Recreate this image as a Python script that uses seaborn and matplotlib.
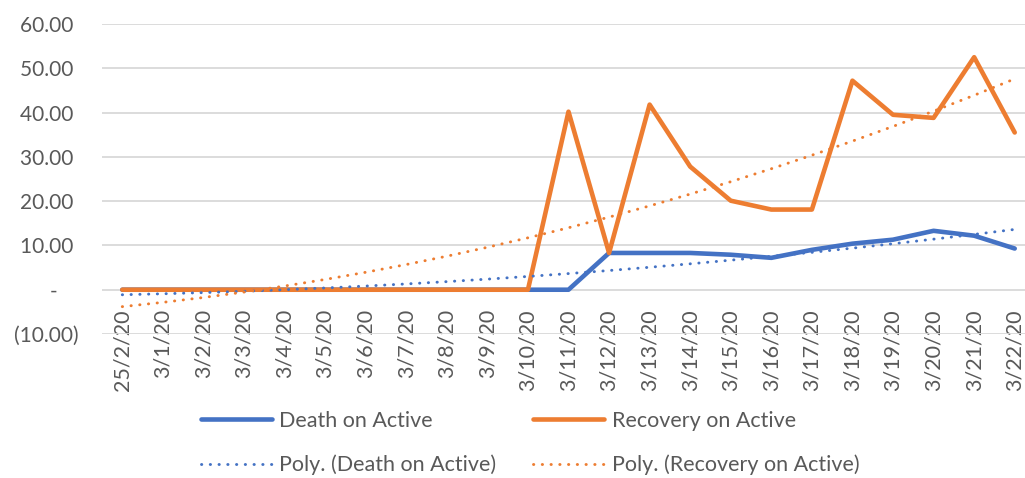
import numpy as np
import pandas as pd
import seaborn as sns
import matplotlib.pyplot as plt
from matplotlib.lines import Line2D

dates = ["25/2/20", "3/1/20", "3/2/20", "3/3/20", "3/4/20", "3/5/20", "3/6/20", "3/7/20",
         "3/8/20", "3/9/20", "3/10/20", "3/11/20", "3/12/20", "3/13/20", "3/14/20", "3/15/20",
         "3/16/20", "3/17/20", "3/18/20", "3/19/20", "3/20/20", "3/21/20", "3/22/20"]
death_on_active = [0, 0, 0, 0, 0, 0, 0, 0, 0, 0, 0, 0, 8.3, 8.3, 8.3, 7.9, 7.2, 9.0, 10.4,
                   11.3, 13.3, 12.2, 9.3]
recovery_on_active = [0, 0, 0, 0, 0, 0, 0, 0, 0, 0, 0, 40.2, 8.3, 41.8, 27.8, 20.1, 18.1,
                      18.1, 47.2, 39.5, 38.8, 52.5, 35.5]
y_ticks = [-10, 0, 10, 20, 30, 40, 50, 60]
y_labels = ["(10.00)", "-    ", "10.00 ", "20.00 ", "30.00 ", "40.00 ", "50.00 ", "60.00 "]

BLUE = "#4472C4"
ORANGE = "#ED7D31"
GREY = "#595959"
DOTS = (0, (0.1, 2.9))

sns.set_style("white")
plt.rcParams["font.family"] = ["Lato", "DejaVu Sans"]

x = np.arange(len(dates))
df = pd.DataFrame({"pos": x, "Death on Active": death_on_active,
                   "Recovery on Active": recovery_on_active})

# excel "Poly." trendline, order 2
trend = {}
for col in ["Death on Active", "Recovery on Active"]:
    coef = np.polyfit(df["pos"], df[col], 2)
    trend[col] = np.polyval(coef, x)

fig = plt.figure(figsize=(10.25, 4.78), dpi=100)
ax = fig.add_axes([102 / 1025, 1 - 334 / 478, (1035 - 102) / 1025, (334 - 24) / 478])

sns.lineplot(data=df, x="pos", y="Death on Active", color=BLUE, linewidth=3.3, ax=ax,
             solid_capstyle="round", zorder=3)
sns.lineplot(data=df, x="pos", y="Recovery on Active", color=ORANGE, linewidth=3.3, ax=ax,
             solid_capstyle="round", zorder=3)
sns.lineplot(x=x, y=trend["Death on Active"], color=BLUE, linewidth=2.1, ax=ax,
             linestyle=DOTS, dash_capstyle="round", zorder=4)
sns.lineplot(x=x, y=trend["Recovery on Active"], color=ORANGE, linewidth=2.1, ax=ax,
             linestyle=DOTS, dash_capstyle="round", zorder=4)

ax.set_xlim(-0.5, len(dates) - 0.5)
ax.set_ylim(-10, 60)
ax.set_yticks(y_ticks)
ax.set_yticklabels(y_labels)
ax.set_xticks(x)
ax.set_xticklabels(dates)
ax.grid(axis="y", color="#D9D9D9", linewidth=1.3)
ax.set_axisbelow(True)
for s in ax.spines.values():
    s.set_visible(False)
ax.spines["bottom"].set_position(("data", 0))
ax.tick_params(axis="both", length=0, labelsize=15, colors=GREY)
ax.tick_params(axis="x", pad=14, labelrotation=90, labelsize=15.5)
ax.tick_params(axis="y", pad=16.5)
ax.set_xlabel("")
ax.set_ylabel("")

handles = [
    Line2D([], [], color=BLUE, linewidth=3.3, solid_capstyle="round"),
    Line2D([], [], color=BLUE, linewidth=2.1, linestyle=DOTS, dash_capstyle="round"),
    Line2D([], [], color=ORANGE, linewidth=3.3, solid_capstyle="round"),
    Line2D([], [], color=ORANGE, linewidth=2.1, linestyle=DOTS, dash_capstyle="round"),
]
labels = ["Death on Active", "Poly. (Death on Active)",
          "Recovery on Active", "Poly. (Recovery on Active)"]
fig.legend(handles, labels, ncol=2, loc="center", bbox_to_anchor=(530 / 1025, 1 - 443 / 478),
           frameon=False, fontsize=15.5, labelcolor=GREY, handlelength=3.3,
           handletextpad=0.35, columnspacing=1.7, labelspacing=1.1)

fig.savefig("out.png", dpi=100)
